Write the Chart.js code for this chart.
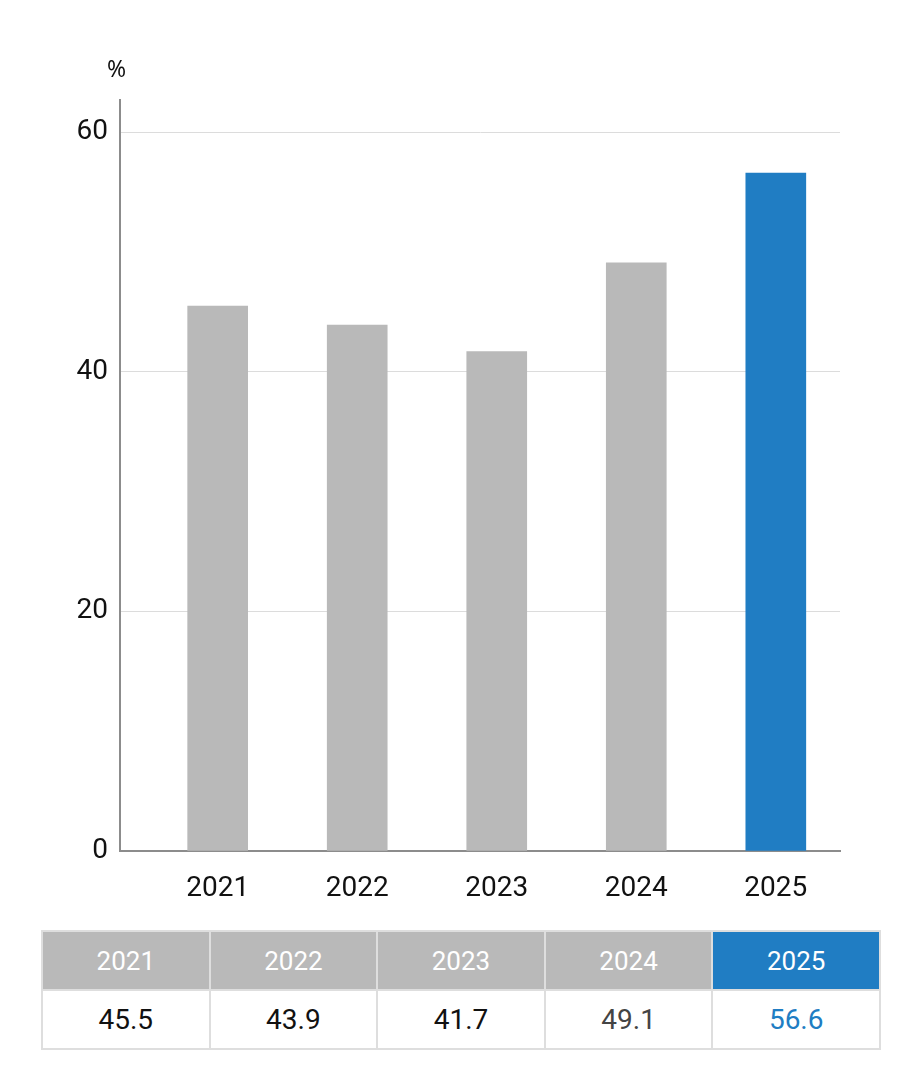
<!DOCTYPE html>
<html>
<head>
<meta charset="utf-8">
<script src="https://cdn.jsdelivr.net/npm/chart.js@4"></script>
<style>
    body { margin: 0; background: #fff; font-family: Roboto, sans-serif; }
    .wrap { position: relative; width: 920px; height: 1091px; }
    #ratioChart { position: absolute; left: 0; top: 0; }
    .unit { position: absolute; left: 107px; top: 52px; font-family: "Noto Sans", sans-serif; font-size: 23px; color: #111; }
    table.values { position: absolute; left: 41px; top: 930px; width: 840px; border-collapse: collapse; table-layout: fixed; }
    table.values td, table.values th { border: 2px solid #dedede; text-align: center; padding: 0; }
    table.values th { height: 57px; background: #b9b9b9; color: #fff; font-weight: 400; font-size: 26px; }
    table.values th.current { background: #207dc3; }
    table.values td { height: 57px; font-size: 28px; color: #111; }
    table.values td.current { color: #207dc3; }
</style>
</head>
<body>
<div class="wrap">
    <canvas id="ratioChart" width="920" height="910"></canvas>
    <span class="unit">%</span>
    <table class="values">
        <thead><tr id="headRow"></tr></thead>
        <tbody><tr id="valueRow"></tr></tbody>
    </table>
</div>
<script>
// chart data
const years = [2021, 2022, 2023, 2024, 2025];
const ratios = [45.5, 43.9, 41.7, 49.1, 56.6];
const yTicks = [0, 20, 40, 60];
const valueColors = ['#111', '#111', '#111', '#444', '#207dc3'];

const grey = '#b9b9b9';
const blue = '#207dc3';

// Build the table under the chart
function buildTable() {
    const head = document.getElementById('headRow');
    const row = document.getElementById('valueRow');
    years.forEach((year, i) => {
        const th = document.createElement('th');
        th.textContent = year;
        const td = document.createElement('td');
        td.textContent = ratios[i].toFixed(1);
        td.style.color = valueColors[i];
        if (i === years.length - 1) {
            th.className = 'current';
            td.className = 'current';
        }
        head.appendChild(th);
        row.appendChild(td);
    });
}

function initRatioChart() {
    const ctx = document.getElementById('ratioChart');
    if (!ctx) return;
    new Chart(ctx.getContext('2d'), {
        type: 'bar',
        data: {
            datasets: [{
                data: years.map((y, i) => ({ x: y, y: ratios[i] })),
                backgroundColor: years.map((y, i) => i === years.length - 1 ? blue : grey),
                barThickness: 60
            }]
        },
        options: {
            responsive: false,
            animation: false,
            layout: {
                padding: { top: 100, right: 80, left: 0, bottom: 0 }
            },
            plugins: {
                legend: { display: false },
                tooltip: { enabled: false }
            },
            scales: {
                x: {
                    type: 'linear',
                    offset: false,
                    min: 2020.3,
                    max: 2025.46,
                    grid: { display: false },
                    border: { display: true, color: '#8c8c8c', width: 2 },
                    afterBuildTicks: scale => {
                        scale.ticks = years.map(v => ({ value: v }));
                    },
                    afterFit: scale => { scale.height = 59; },
                    ticks: {
                        padding: 13,
                        color: '#111',
                        font: { family: 'Roboto', size: 28 },
                        callback: v => String(v)
                    }
                },
                y: {
                    min: 0,
                    max: 62.7,
                    grid: { color: '#dcdcdc', lineWidth: 1, drawTicks: false },
                    border: { display: true, color: '#8c8c8c', width: 2 },
                    afterBuildTicks: scale => {
                        scale.ticks = yTicks.map(v => ({ value: v }));
                    },
                    afterFit: scale => { scale.width = 120; },
                    ticks: {
                        padding: 12,
                        color: '#111',
                        font: { family: 'Roboto', size: 28 }
                    }
                }
            }
        }
    });
}

document.addEventListener('DOMContentLoaded', () => {
    buildTable();
    initRatioChart();
});
</script>
</body>
</html>
